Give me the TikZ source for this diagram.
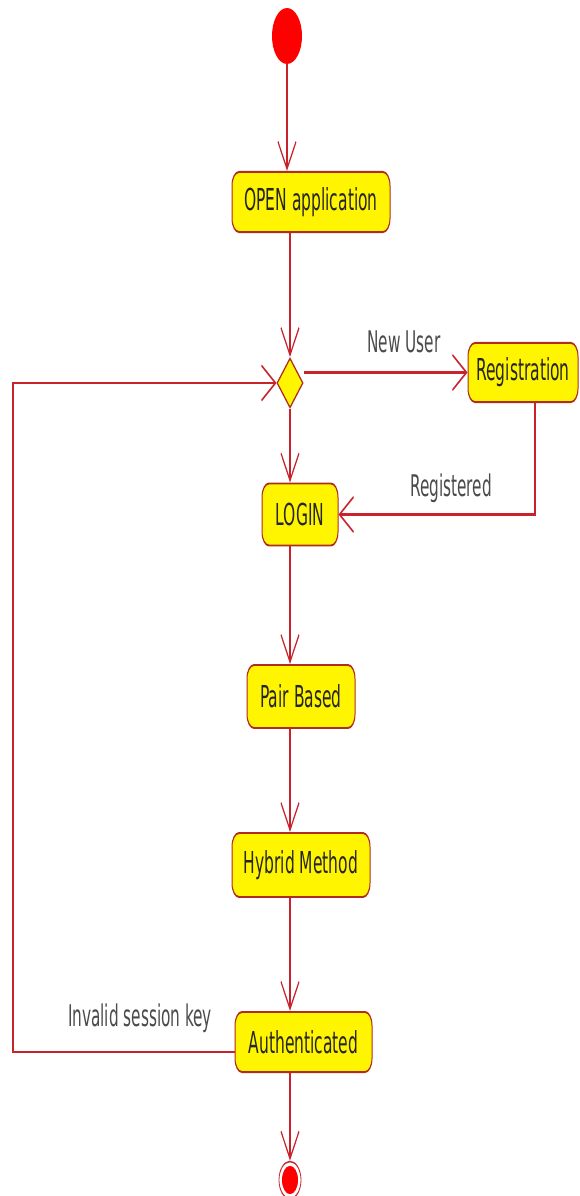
\documentclass[tikz,border=0pt]{standalone}
\usepackage{fontspec}
\setmainfont{DejaVu Sans}
\usetikzlibrary{arrows.meta,shapes.geometric}
\definecolor{flow}{RGB}{200,35,45}
\definecolor{edge}{RGB}{175,45,30}
\definecolor{act}{RGB}{255,245,0}
\definecolor{lbl}{RGB}{75,75,75}
\tikzset{
  actbox/.style={draw=edge, fill=act, line width=1pt, rounded corners=7pt,
    inner sep=0pt, text=black!85, font=\fontsize{15.5}{18}\selectfont},
  arr/.style={draw=flow, line width=1.1pt, -{Straight Barb[length=14pt,width=18pt]}},
  plain/.style={draw=flow, line width=1.1pt},
  guard/.style={text=lbl, font=\fontsize{15.3}{18}\selectfont, inner sep=0pt},
}
\begin{document}
\begin{tikzpicture}
\fill[white] (0pt,0pt) rectangle (579pt,-1196pt);
\useasboundingbox (0pt,0pt) rectangle (579pt,-1196pt);
% the activity flow, drawn at 1:1.95 height and stretched onto the page
\begin{scope}[transform canvas={yscale=1.95}, x=1pt, y={(0pt,-0.5128205pt)}]
  \node[ellipse, fill=red, inner sep=0pt, minimum width=30pt, minimum height=28.7pt] (start) at (287,36) {};
  \node[actbox, minimum width=158pt, minimum height=30.8pt] (open) at (311,202) {OPEN application};
  \node[diamond, draw=edge, fill=act, line width=1pt, inner sep=0pt,
        minimum width=26pt, minimum height=25.6pt] (dia) at (290,383) {};
  \node[actbox, minimum width=110pt, minimum height=30.3pt] (reg) at (523,372.5) {Registration};
  \node[actbox, minimum width=76pt, minimum height=31.8pt] (login) at (300,514.5) {LOGIN};
  \node[actbox, minimum width=108pt, minimum height=32.3pt] (pair) at (301,696.5) {Pair Based};
  \node[actbox, minimum width=138pt, minimum height=32.8pt] (hyb) at (301,865) {Hybrid Method};
  \node[actbox, minimum width=137pt, minimum height=30.8pt] (auth) at (303.5,1042) {Authenticated};
  \node[ellipse, draw=flow, fill=white, line width=0.8pt, inner sep=0pt,
        minimum width=22pt, minimum height=19pt] (end) at (290,1180) {};
  \node[ellipse, fill=red, inner sep=0pt, minimum width=16pt, minimum height=14.5pt] (endcore) at (end.center) {};

  \coordinate (lb) at (13,1052);

  \draw[arr] (start.south) -- (start.south |- open.north);
  \draw[arr] (open.south -| dia.north) -- (dia.north);
  \draw[arr] (dia.east |- reg.west) -- (reg.west);
  \draw[arr] ([xshift=12pt]reg.south) |- (login.east);
  \draw[arr] (dia.south) -- (dia.south |- login.north);
  \draw[arr] (login.south -| dia.south) -- (dia.south |- pair.north);
  \draw[arr] (pair.south -| dia.south) -- (dia.south |- hyb.north);
  \draw[arr] (hyb.south -| dia.south) -- (dia.south |- auth.north);
  \draw[arr] (auth.south -| dia.south) -- (end.north);
  \draw[arr] (auth.west |- lb) -- (lb) |- (dia.west);

  \node[guard] (newuser) at (404,342) {New User};
  \node[guard] (registered) at (451,488) {Registered};
  \node[guard] (invalid) at (140,1018) {Invalid session key};
\end{scope}
\end{tikzpicture}
\end{document}
